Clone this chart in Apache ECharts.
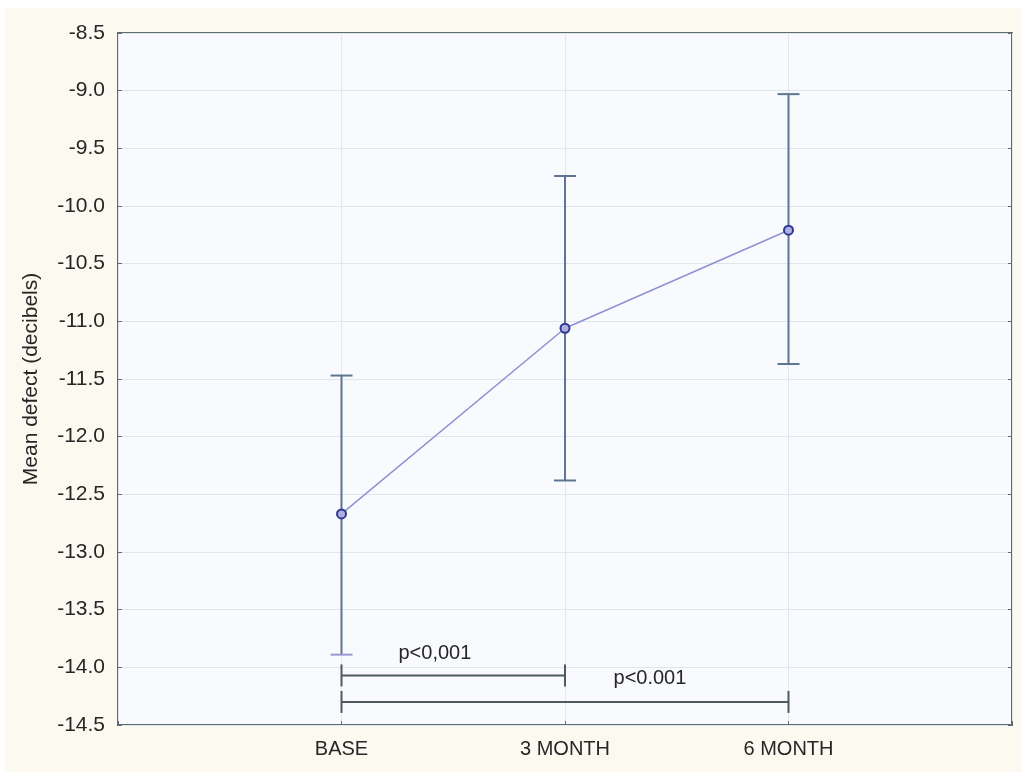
<!DOCTYPE html>
<html>
<head>
<meta charset="utf-8">
<script src="https://cdn.jsdelivr.net/npm/echarts@6/dist/echarts.min.js"></script>
<style>
html,body{margin:0;padding:0;background:#ffffff;}
#chart{position:absolute;left:5px;top:8px;width:1017px;height:764px;}
</style>
</head>
<body>
<div id="chart"></div>
<script>
// Data
var categories = ['BASE', '3 MONTH', '6 MONTH'];
var categoryPos = [1, 2, 3];
var means = [-12.67, -11.06, -10.21];
var upper = [-11.47, -9.74, -9.03];
var lower = [-13.89, -12.38, -11.37];
// comparison brackets: [fromCategoryPos, toCategoryPos, y]
var brackets = [[1, 2, -14.07], [1, 3, -14.30]];
// bracket labels: [x, y, text]
var bracketLabels = [[1.418, -13.88, 'p<0,001'], [2.38, -14.10, 'p<0.001']];
var yTicks = { min: -14.5, max: -8.5, interval: 0.5 };

var chart = echarts.init(document.getElementById('chart'), null, {renderer: 'canvas'});
var font = 'Liberation Sans, Arial, sans-serif';
var textColor = '#262626';

var lineData = categoryPos.map(function (x, i) { return [x, means[i]]; });
var errData = categoryPos.map(function (x, i) { return [x, lower[i], upper[i]]; });

var option = {
  backgroundColor: '#fcf9f1',
  animation: false,
  grid: {
    left: 113, top: 25, right: 10, bottom: 47,
    show: true, backgroundColor: '#f9fafd', borderColor: '#5f6d72', borderWidth: 2
  },
  xAxis: {
    type: 'value', min: 0, max: 4, interval: 1,
    axisLine: { show: false },
    axisTick: { show: true, inside: true, length: 4, lineStyle: { color: '#5f6d72' } },
    splitLine: { show: true, lineStyle: { color: '#e3e6ec', width: 1 } },
    axisLabel: {
      margin: 14, color: textColor, fontSize: 20, fontFamily: font,
      formatter: function (v) { var i = categoryPos.indexOf(v); return i >= 0 ? categories[i] : ''; }
    }
  },
  yAxis: [{
    type: 'value', min: yTicks.min, max: yTicks.max, interval: yTicks.interval,
    name: 'Mean defect (decibels)', nameLocation: 'middle', nameGap: 76,
    nameTextStyle: { color: textColor, fontSize: 21, fontFamily: font },
    axisLine: { show: false },
    axisTick: { show: true, inside: true, length: 4, lineStyle: { color: '#5f6d72' } },
    splitLine: { show: true, lineStyle: { color: '#dfe6ec', width: 1 } },
    axisLabel: {
      margin: 13, color: textColor, fontSize: 21, fontFamily: font,
      formatter: function (v) { return v.toFixed(1); }
    }
  }, {
    type: 'value', position: 'right', min: yTicks.min, max: yTicks.max, interval: yTicks.interval,
    axisLine: { show: false },
    axisTick: { show: true, inside: true, length: 4, lineStyle: { color: '#5f6d72' } },
    splitLine: { show: false },
    axisLabel: { show: false }
  }],
  series: [
    {
      type: 'custom',
      z: 2,
      data: errData,
      renderItem: function (params, api) {
        var x = api.value(0);
        var lo = api.coord([x, api.value(1)]);
        var hi = api.coord([x, api.value(2)]);
        var hw = 11;
        var c = '#5f7592';
        var lowCapColor = params.dataIndex === 0 ? '#9a9ad6' : c;
        return {
          type: 'group',
          children: [
            { type: 'line', shape: { x1: hi[0], y1: hi[1], x2: lo[0], y2: lo[1] }, style: { stroke: c, lineWidth: 2 } },
            { type: 'line', shape: { x1: hi[0] - hw, y1: hi[1], x2: hi[0] + hw, y2: hi[1] }, style: { stroke: c, lineWidth: 2 } },
            { type: 'line', shape: { x1: lo[0] - hw, y1: lo[1], x2: lo[0] + hw, y2: lo[1] }, style: { stroke: lowCapColor, lineWidth: 2 } }
          ]
        };
      }
    },
    {
      type: 'line',
      z: 3,
      data: lineData,
      symbol: 'circle',
      symbolSize: 9,
      lineStyle: { color: '#8e92d2', width: 1.5 },
      itemStyle: { color: '#b0aee0', borderColor: '#2c3990', borderWidth: 2 }
    },
    {
      type: 'custom',
      z: 2,
      data: brackets,
      renderItem: function (params, api) {
        var a = api.coord([api.value(0), api.value(2)]);
        var b = api.coord([api.value(1), api.value(2)]);
        var c = '#4f5a60';
        var h = 11;
        return {
          type: 'group',
          children: [
            { type: 'line', shape: { x1: a[0], y1: a[1], x2: b[0], y2: b[1] }, style: { stroke: c, lineWidth: 2 } },
            { type: 'line', shape: { x1: a[0], y1: a[1] - h, x2: a[0], y2: a[1] + h }, style: { stroke: c, lineWidth: 2 } },
            { type: 'line', shape: { x1: b[0], y1: b[1] - h, x2: b[0], y2: b[1] + h }, style: { stroke: c, lineWidth: 2 } }
          ]
        };
      }
    },
    {
      type: 'custom',
      z: 4,
      data: bracketLabels,
      renderItem: function (params, api) {
        var p = api.coord([api.value(0), api.value(1)]);
        return {
          type: 'text',
          x: p[0], y: p[1],
          style: {
            text: bracketLabels[params.dataIndex][2],
            fill: textColor, font: '20px ' + font,
            align: 'center', verticalAlign: 'middle'
          }
        };
      }
    }
  ]
};
chart.setOption(option);
</script>
</body>
</html>
